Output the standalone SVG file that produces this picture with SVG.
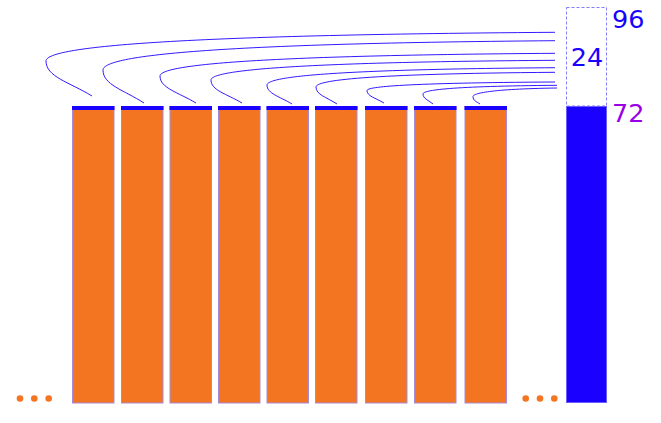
<svg xmlns="http://www.w3.org/2000/svg" width="661" height="423" viewBox="0 0 661 423">
<style>
.bar{fill:#f47521;stroke:#a88bd6;stroke-width:1}
.cap{fill:#1a00ff}
.link{fill:none;stroke:#1a00ff;stroke-width:0.9}
.dot{fill:#f47521}
.lbl{font-family:"DejaVu Sans","Open Sans",sans-serif;font-size:25.5px}
</style>
<rect width="661" height="423" fill="#ffffff"/>
<g id="bars">
<g id="bar1"><rect class="bar" x="72.5" y="106.5" width="41.5" height="296.5"/><rect class="cap" x="72" y="106" width="42.5" height="4"/></g>
<g id="bar2"><rect class="bar" x="121.5" y="106.5" width="41.5" height="296.5"/><rect class="cap" x="121" y="106" width="42.5" height="4"/></g>
<g id="bar3"><rect class="bar" x="170" y="106.5" width="41.5" height="296.5"/><rect class="cap" x="169.5" y="106" width="42.5" height="4"/></g>
<g id="bar4"><rect class="bar" x="218.5" y="106.5" width="41.5" height="296.5"/><rect class="cap" x="218" y="106" width="42.5" height="4"/></g>
<g id="bar5"><rect class="bar" x="267" y="106.5" width="41.5" height="296.5"/><rect class="cap" x="266.5" y="106" width="42.5" height="4"/></g>
<g id="bar6"><rect class="bar" x="315.5" y="106.5" width="41.5" height="296.5"/><rect class="cap" x="315" y="106" width="42.5" height="4"/></g>
<g id="bar7"><rect class="bar" x="365.5" y="106.5" width="41.5" height="296.5"/><rect class="cap" x="365" y="106" width="42.5" height="4"/></g>
<g id="bar8"><rect class="bar" x="414.5" y="106.5" width="41.5" height="296.5"/><rect class="cap" x="414" y="106" width="42.5" height="4"/></g>
<g id="bar9"><rect class="bar" x="465" y="106.5" width="41.5" height="296.5"/><rect class="cap" x="464.5" y="106" width="42.5" height="4"/></g>
</g>
<g id="total">
<rect x="566.5" y="7.5" width="40" height="98.5" fill="none" stroke="#7f7fff" stroke-width="1" stroke-dasharray="3,2"/>
<rect x="566.5" y="106.5" width="40" height="296" fill="#1a00ff" stroke="#6a5cff" stroke-width="1"/>
<text class="lbl" x="587" y="66" text-anchor="middle" fill="#1a00ff">24</text>
<text class="lbl" x="612" y="28.3" fill="#1a00ff">96</text>
<text class="lbl" x="612" y="121.7" fill="#9a00e6">72</text>
</g>
<g id="ellipsis-left"><circle class="dot" cx="20" cy="398.5" r="3.3"/><circle class="dot" cx="34.3" cy="398.5" r="3.3"/><circle class="dot" cx="48.7" cy="398.5" r="3.3"/></g>
<g id="ellipsis-right"><circle class="dot" cx="525.7" cy="398.5" r="3.3"/><circle class="dot" cx="540" cy="398.5" r="3.3"/><circle class="dot" cx="554.3" cy="398.5" r="3.3"/></g>
<g id="connectors">
<path class="link" d="M92,96 C69,82 46,76.8 46,61 C46,48.1 147.8,35.2 555,32.3"/>
<path class="link" d="M144,103 C123.5,89.8 103,84.9 103,70 C103,56.8 193.4,43.6 555,40.7"/>
<path class="link" d="M196,103 C178,92.2 160,88.2 160,76 C160,65.8 239,55.6 555,53.3"/>
<path class="link" d="M242,103 C226.5,93.8 211,90.4 211,80 C211,71.1 279.8,62.3 555,60.3"/>
<path class="link" d="M292,104 C279.5,96.4 267,93.6 267,85 C267,77.2 324.6,69.4 555,67.7"/>
<path class="link" d="M337,104 C326.5,97.2 316,94.7 316,87 C316,80.4 363.8,73.8 555,72.3"/>
<path class="link" d="M384,103 C375.5,98 367,96.1 367,90.5 C367,86.7 404.6,82.9 555,82"/>
<path class="link" d="M433,104 C428,100 423,98.5 423,94 C423,90.1 449.4,86.2 557,85.3"/>
<path class="link" d="M480,104 C476.5,101.6 473,100.7 473,96.5 C473,93.5 489.4,89 557,88"/>
</g>
</svg>
